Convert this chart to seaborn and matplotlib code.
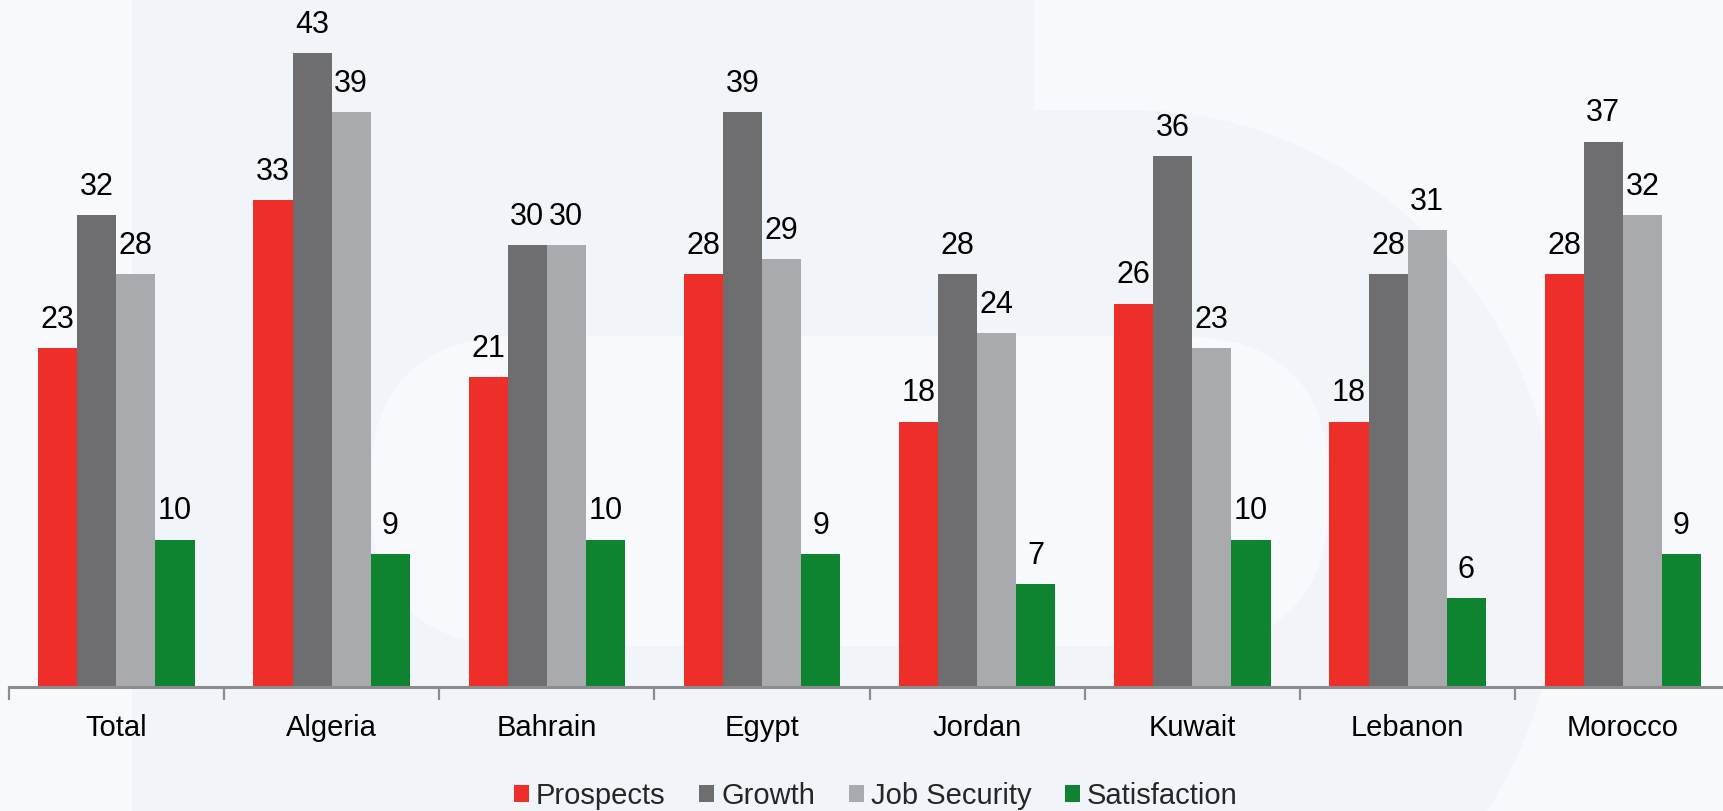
import matplotlib
matplotlib.use("Agg")
import matplotlib.pyplot as plt
import matplotlib.patches as mpatches
import numpy as np
import pandas as pd
import seaborn as sns

countries = ["Total", "Algeria", "Bahrain", "Egypt", "Jordan", "Kuwait", "Lebanon", "Morocco"]
series = ["Prospects", "Growth", "Job Security", "Satisfaction"]
prospects = [23, 33, 21, 28, 18, 26, 18, 28]
growth = [32, 43, 30, 39, 28, 36, 28, 37]
job_security = [28, 39, 30, 29, 24, 23, 31, 32]
satisfaction = [10, 9, 10, 9, 7, 10, 6, 9]
colors = ["#ee2e29", "#6e6e70", "#a9aaad", "#0e8431"]

df = pd.DataFrame({
    "country": countries * 4,
    "series": [s for s in series for _ in countries],
    "value": prospects + growth + job_security + satisfaction,
})

sns.set_theme(style="white")
plt.rcParams["font.family"] = ["Liberation Sans", "DejaVu Sans"]

light = "#f8f9fc"
shade = "#f1f4f9"

fig = plt.figure(figsize=(17.24, 8.11), dpi=100)
fig.patch.set_facecolor(light)

# faint background emblem
bg = fig.add_axes([0, 0, 1, 1], zorder=-5)
bg.set_xlim(0, 1724)
bg.set_ylim(811, 0)
bg.axis("off")
bg.add_patch(mpatches.Polygon([(132, 0), (1034, 0), (1034, 811), (300, 811), (132, 600)],
                              color=shade, lw=0))
bg.add_patch(mpatches.Rectangle((132, 110), 1000, 701, color=shade, lw=0))
bg.add_patch(mpatches.Ellipse((1130, 560), 860, 900, color=shade, lw=0))
bg.add_patch(mpatches.FancyBboxPatch((370, 336), 960, 310,
                                     boxstyle="round,pad=0,rounding_size=150",
                                     color=light, lw=0))

ax = fig.add_axes([0.0051, 0.153, 0.9986, 0.847])
ax.set_facecolor("none")
sns.barplot(data=df, x="country", y="value", hue="series", hue_order=series,
            order=countries, palette=colors, saturation=1, width=0.726,
            gap=0, linewidth=0, ax=ax, legend=True)

for cont in ax.containers:
    ax.bar_label(cont, fmt="%d", padding=9.5, fontsize=22, color="#000000")

ax.set_xlim(-0.5, 7.5)
ax.set_ylim(0, 46.6)
ax.set_xlabel("")
ax.set_ylabel("")
ax.set_yticks([])
for s in ["top", "right", "left"]:
    ax.spines[s].set_visible(False)
ax.spines["bottom"].set_color("#8c8c8c")
ax.spines["bottom"].set_linewidth(2.2)

ax.set_xticks(np.arange(-0.5, 8.0, 1.0), minor=True)
ax.tick_params(axis="x", which="minor", bottom=True, length=9, width=1.6,
               color="#8c8c8c", direction="out")
ax.tick_params(axis="x", which="major", bottom=True, length=0, pad=19.5,
               labelsize=21, labelcolor="#000000")

handles, labels = ax.get_legend_handles_labels()
ax.get_legend().remove()
fig.legend(handles, labels, loc="center", bbox_to_anchor=(0.508, 0.0186), ncol=4,
           frameon=False, fontsize=21, handlelength=0.52, handleheight=0.55,
           handletextpad=0.24, columnspacing=1.15, borderpad=0, borderaxespad=0)

fig.savefig("out.png", dpi=100, facecolor=fig.get_facecolor())
